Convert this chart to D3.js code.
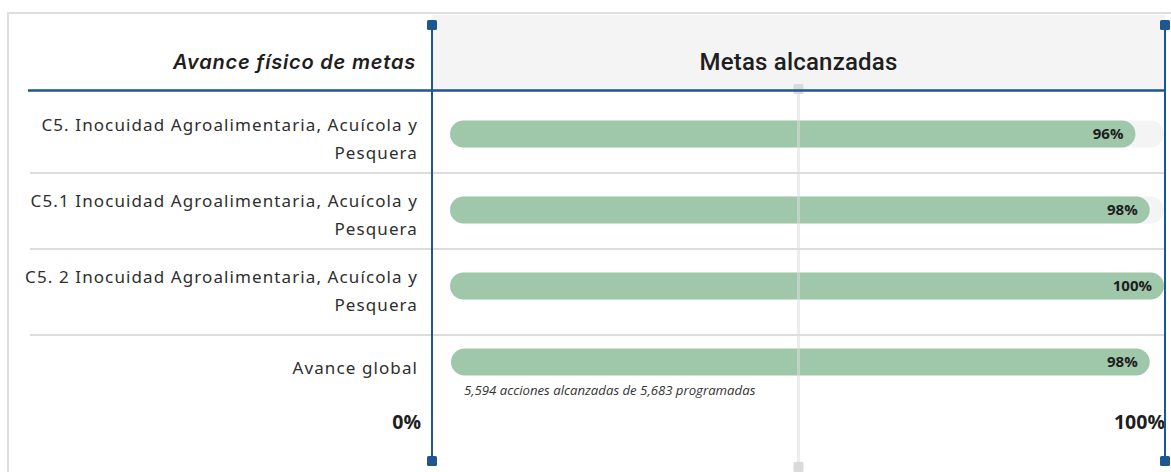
<!DOCTYPE html>
<html>
<head>
<meta charset="utf-8">
<script src="https://cdn.jsdelivr.net/npm/d3@7"></script>
<style>
  body { margin: 0; background: #fff; }
  svg { display: block; }
</style>
</head>
<body>
<svg id="chart"></svg>
<script>
// datos del cuadro
var categories = ["C5", "C5.1", "C5.2", "global"];
var categoryLines = [
  ["C5. Inocuidad Agroalimentaria, Acuícola y", "Pesquera"],
  ["C5.1 Inocuidad Agroalimentaria, Acuícola y", "Pesquera"],
  ["C5. 2 Inocuidad Agroalimentaria, Acuícola y", "Pesquera"],
  ["Avance global"]
];
var values = [96, 98, 100, 98];
var valueLabels = ["96%", "98%", "100%", "98%"];
var axisTicks = [0, 100];
var axisLabels = ["0%", "100%"];
var headerLeft = "Avance físico de metas";
var headerRight = "Metas alcanzadas";
var globalNote = "5,594 acciones alcanzadas de 5,683 programadas";

var width = 1171, height = 472;
var blue = "#1d5791", green = "#9fc7a9", grid = "#dcdcdc";

var svg = d3.select("#chart").attr("width", width).attr("height", height);

// escala del marco (entre lineas azules) y escala de las barras
var xf = d3.scaleLinear().domain([0, 100]).range([432, 1165]);
var x = d3.scaleLinear().domain([0, 100]).range([450, 1164]);
var y = d3.scaleBand().domain(categories).range([96, 400]);
var barH = 27;

// marco exterior
svg.append("path")
  .attr("d", "M8," + height + "V13H" + width)
  .attr("fill", "none").attr("stroke", "#dedede").attr("stroke-width", 2);

// fondo del encabezado
svg.append("rect")
  .attr("x", xf(0)).attr("y", 15).attr("width", xf(100) - xf(0)).attr("height", 76)
  .attr("fill", "#f4f4f4");

// separadores
svg.selectAll(".sep")
  .data(categories.slice(1))
  .enter().append("line")
  .attr("x1", 30).attr("x2", xf(100))
  .attr("y1", function(d, i) { return i == 2 ? 335 : y(d) + 1; })
  .attr("y2", function(d, i) { return i == 2 ? 335 : y(d) + 1; })
  .attr("stroke", grid).attr("stroke-width", 2);

// pistas de las barras
svg.selectAll(".track")
  .data(categories.slice(0, 3))
  .enter().append("rect")
  .attr("x", x(0)).attr("y", function(d) { return y(d) + y.bandwidth() / 2 - barH / 2; })
  .attr("width", x(100) - x(0)).attr("height", barH)
  .attr("rx", barH / 2).attr("fill", "#f4f4f4");

// barras
svg.selectAll(".bar")
  .data(values)
  .enter().append("rect")
  .attr("x", function(d, i) { return i == 3 ? x(0) + 1 : x(0); })
  .attr("y", function(d, i) { return y(categories[i]) + y.bandwidth() / 2 - barH / 2; })
  .attr("width", function(d, i) { return x(d) - x(0) - (i == 3 ? 1 : 0); })
  .attr("height", barH).attr("rx", barH / 2)
  .attr("fill", green);

// linea de 50% (encima de las barras, semitransparente)
svg.append("line")
  .attr("x1", xf(50)).attr("x2", xf(50)).attr("y1", 90).attr("y2", 466)
  .attr("stroke", grid).attr("stroke-width", 3).attr("stroke-opacity", 0.55);
svg.selectAll(".midmark")
  .data([89, 467])
  .enter().append("rect")
  .attr("x", xf(50) - 5).attr("y", function(d) { return d - 5; })
  .attr("width", 10).attr("height", 10).attr("rx", 1.5)
  .attr("fill", "#dadada");

// etiquetas de valor
svg.selectAll(".val")
  .data(values)
  .enter().append("text")
  .attr("x", function(d) { return x(d) - 12; })
  .attr("y", function(d, i) { return y(categories[i]) + y.bandwidth() / 2; })
  .attr("dy", "0.35em")
  .attr("text-anchor", "end")
  .attr("font-family", "'Open Sans', sans-serif").attr("font-weight", 700)
  .attr("font-size", 15).attr("fill", "#1e1e1e")
  .text(function(d, i) { return valueLabels[i]; });

// etiquetas de categoria
var lab = svg.selectAll(".lab")
  .data(categoryLines)
  .enter().append("text")
  .attr("text-anchor", "end")
  .attr("font-family", "'Noto Sans', sans-serif")
  .attr("font-size", 17).attr("fill", "#2e2e2e")
  .attr("letter-spacing", 1.1);
lab.selectAll("tspan")
  .data(function(d, i) { return d.map(function(t, j) { return {t: t, j: j, n: d.length, c: categories[i]}; }); })
  .enter().append("tspan")
  .attr("x", 418)
  .attr("y", function(d) {
    var c = y(d.c) + y.bandwidth() / 2;
    return d.n == 1 ? c + 6 : c - 9 + d.j * 28;
  })
  .attr("dy", "0.35em")
  .text(function(d) { return d.t; });

// nota del avance global
svg.append("text")
  .attr("x", x(0) + 14).attr("y", y("global") + y.bandwidth() / 2 + 28)
  .attr("dy", "0.35em")
  .attr("font-family", "'Open Sans', sans-serif").attr("font-style", "italic")
  .attr("font-size", 13.2).attr("fill", "#333")
  .text(globalNote);

// encabezados
svg.append("text")
  .attr("x", 416).attr("y", 62).attr("dy", "0.35em")
  .attr("text-anchor", "end")
  .attr("font-family", "Inter, sans-serif").attr("font-style", "italic").attr("font-weight", 600)
  .attr("font-size", 20).attr("fill", "#1e1e1e")
  .attr("letter-spacing", 0.8)
  .text(headerLeft);
svg.append("text")
  .attr("x", xf(50)).attr("y", 62).attr("dy", "0.35em")
  .attr("text-anchor", "middle")
  .attr("font-family", "Roboto, sans-serif").attr("font-weight", 500)
  .attr("font-size", 24).attr("fill", "#1e1e1e")
  .attr("letter-spacing", 0.2)
  .text(headerRight);

// ejes 0% y 100%
svg.selectAll(".axl")
  .data(axisTicks)
  .enter().append("text")
  .attr("x", function(d) { return d == 0 ? xf(d) - 11 : xf(d); })
  .attr("y", 422).attr("dy", "0.35em")
  .attr("text-anchor", "end")
  .attr("font-family", "'Open Sans', sans-serif").attr("font-weight", 700)
  .attr("font-size", 19.5).attr("fill", "#1e1e1e")
  .text(function(d, i) { return axisLabels[i]; });

// lineas azules
svg.append("line")
  .attr("x1", 28).attr("x2", xf(100)).attr("y1", 90.5).attr("y2", 90.5)
  .attr("stroke", blue).attr("stroke-width", 2.5);
axisTicks.forEach(function(t, k) {
  var px = xf(t);
  svg.append("line")
    .attr("x1", px).attr("x2", px).attr("y1", 24).attr("y2", 462)
    .attr("stroke", blue).attr("stroke-width", 2);
  svg.selectAll(".bm" + k)
    .data([25, 461])
    .enter().append("rect")
    .attr("x", px - 5).attr("y", function(d) { return d - 5; })
    .attr("width", 10).attr("height", 10).attr("rx", 1.5)
    .attr("fill", blue);
});
</script>
</body>
</html>
